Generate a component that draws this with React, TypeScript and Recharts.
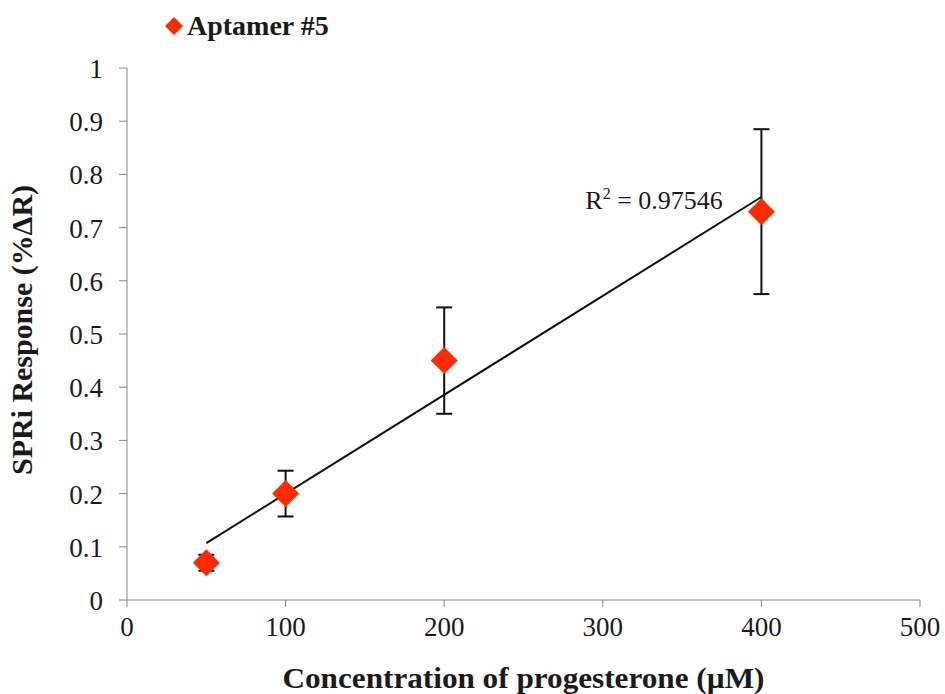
import { ScatterChart, Scatter, XAxis, YAxis, ErrorBar, ReferenceLine, ReferenceDot, Label } from "recharts";

// progesterone concentration (µM) vs SPRi response (%ΔR)
const concentrations = [50, 100, 200, 400];
const responses = [0.07, 0.2, 0.45, 0.73];
const errors = [0.015, 0.043, 0.1, 0.155];

const xTicks = [0, 100, 200, 300, 400, 500];
const yTicks = [0, 0.1, 0.2, 0.3, 0.4, 0.5, 0.6, 0.7, 0.8, 0.9, 1];

const seriesName = "Aptamer #5";
const rSquared = "0.97546";

const RED = "#ff2a00";
const AXIS = "#868686";
const INK = "#1a1a1a";
const FONT = "'Liberation Serif', 'DejaVu Serif', serif";

const points = concentrations.map((x, i) => ({ x, y: responses[i], err: errors[i] }));

// least-squares linear trendline across the measured range
const n = concentrations.length;
const meanX = concentrations.reduce((a, b) => a + b, 0) / n;
const meanY = responses.reduce((a, b) => a + b, 0) / n;
let sxy = 0;
let sxx = 0;
concentrations.forEach((x, i) => {
  sxy += (x - meanX) * (responses[i] - meanY);
  sxx += (x - meanX) ** 2;
});
const slope = sxy / sxx;
const intercept = meanY - slope * meanX;
const x0 = Math.min(...concentrations);
const x1 = Math.max(...concentrations);
const trend = [
  { x: x0, y: intercept + slope * x0 },
  { x: x1, y: intercept + slope * x1 },
];

const Diamond = (props: any) => {
  const { cx, cy } = props;
  const h = 13.5;
  return (
    <polygon
      points={`${cx},${cy - h} ${cx + h},${cy} ${cx},${cy + h} ${cx - h},${cy}`}
      fill={RED}
    />
  );
};

const XTick = (props: any) => {
  const { x, y, payload } = props;
  return (
    <text x={x} y={y + 27} textAnchor="middle" style={{ fontFamily: FONT }} fontSize={27} fill={INK}>
      {String(payload.value)}
    </text>
  );
};

const YTick = (props: any) => {
  const { x, y, payload } = props;
  return (
    <text x={x} y={y + 10} textAnchor="end" style={{ fontFamily: FONT }} fontSize={27} fill={INK}>
      {String(payload.value)}
    </text>
  );
};

const RSquaredLabel = (props: any) => {
  const { cx, cy } = props;
  return (
    <text x={cx} y={cy} fontFamily={FONT} fontSize={26} fill={INK}>
      R
      <tspan fontSize={16} dy={-10}>2</tspan>
      <tspan dy={10}> = {rSquared}</tspan>
    </text>
  );
};

export default function App() {
  return (
    <div style={{ position: "absolute", left: 0, top: 0, width: 945, height: 694, background: "#fff" }}>
      <div
        style={{
          position: "absolute",
          left: 165,
          top: 10,
          display: "flex",
          alignItems: "center",
          fontFamily: FONT,
          fontWeight: "bold",
          fontSize: 28,
          color: INK,
        }}
      >
        <svg width={18} height={18} style={{ marginRight: 4 }}>
          <polygon points="9,0 18,9 9,18 0,9" fill={RED} />
        </svg>
        {seriesName}
      </div>

      <ScatterChart width={945} height={694} margin={{ top: 68, right: 25, bottom: 0, left: 0 }}>
        <XAxis
          type="number"
          dataKey="x"
          height={94}
          domain={[0, 500]}
          ticks={xTicks}
          stroke={AXIS}
          tickSize={7}
          tick={<XTick />}
        >
          <Label
            content={(p: any) => {
              const vb = p.viewBox;
              return (
                <text
                  x={vb.x + vb.width / 2}
                  y={688}
                  textAnchor="middle"
                  fontFamily={FONT}
                  fontWeight="bold"
                  fontSize={30}
                  textLength={482}
                  lengthAdjust="spacingAndGlyphs"
                  fill={INK}
                >
                  Concentration of progesterone (µM)
                </text>
              );
            }}
          />
        </XAxis>
        <YAxis
          type="number"
          dataKey="y"
          width={127}
          domain={[0, 1]}
          ticks={yTicks}
          stroke={AXIS}
          tickSize={8}
          tickMargin={16}
          tick={<YTick />}
        >
          <Label
            content={(p: any) => {
              const vb = p.viewBox;
              const cy = vb.y + vb.height / 2 - 4;
              return (
                <text
                  x={22}
                  y={cy}
                  transform={`rotate(-90 22 ${cy})`}
                  textAnchor="middle"
                  dominantBaseline="central"
                  fontFamily={FONT}
                  fontWeight="bold"
                  fontSize={29}
                  textLength={290}
                  lengthAdjust="spacingAndGlyphs"
                  fill={INK}
                >
                  SPRi Response (%ΔR)
                </text>
              );
            }}
          />
        </YAxis>
        <ReferenceLine segment={trend} stroke="#111" strokeWidth={2} ifOverflow="visible" />
        <Scatter data={points} shape={Diamond} isAnimationActive={false}>
          <ErrorBar dataKey="err" direction="y" width={8} stroke="#111" strokeWidth={2} />
        </Scatter>
        <ReferenceDot x={289} y={0.735} r={0} shape={RSquaredLabel} ifOverflow="visible" />
      </ScatterChart>
    </div>
  );
}
